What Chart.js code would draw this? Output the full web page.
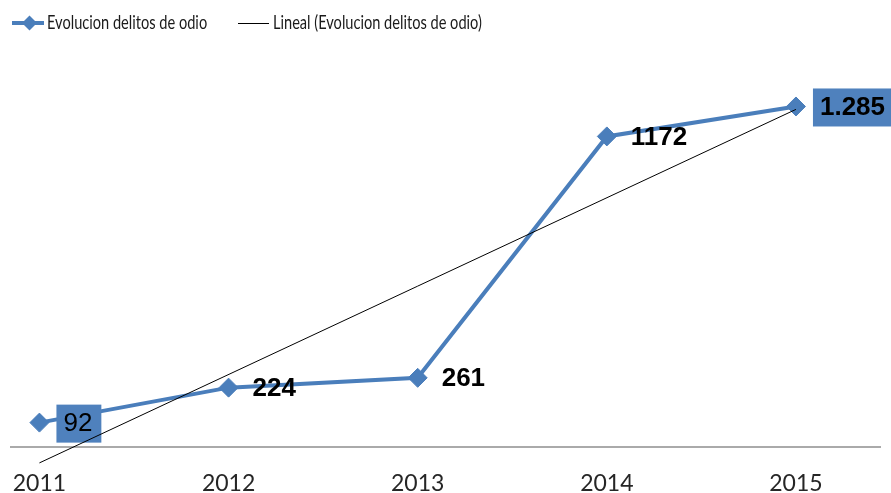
<!DOCTYPE html>
<html>
<head>
<meta charset="utf-8">
<script src="https://cdn.jsdelivr.net/npm/chart.js@4"></script>
<style>
  html, body { margin: 0; padding: 0; background: #fff; }
  #wrap { width: 891px; height: 493px; }
</style>
</head>
<body>
<div id="wrap"><canvas id="chart"></canvas></div>
<script>
const years = [2011, 2012, 2013, 2014, 2015];
const delitos = [92, 224, 261, 1172, 1285];
const valueLabels = ['92', '224', '261', '1172', '1.285'];
// trend line end points
const trendYears = [2011, 2015];
const trendValues = [-60, 1274];
const seriesNames = ['Evolucion delitos de odio', 'Lineal (Evolucion delitos de odio)'];

const blue = '#4a7ebb';
const boxBlue = '#4f81bd';

// labels drawn right after the blue series, so the trend line stays on top
const valueLabelPlugin = {
  id: 'valueLabels',
  afterDatasetDraw(chart, args) {
    if (args.index !== 0) return;
    const ctx = chart.ctx;
    const boxed = [true, false, false, false, true];
    const bold = [false, true, true, true, true];
    ctx.save();
    ctx.textBaseline = 'middle';
    ctx.textAlign = 'left';
    args.meta.data.forEach((p, i) => {
      ctx.font = (bold[i] ? 'bold ' : '') + '26px "Liberation Sans", Arial, sans-serif';
      const tx = p.x + 24;
      const ty = p.y + 1;
      const w = ctx.measureText(valueLabels[i]).width;
      if (boxed[i]) {
        ctx.fillStyle = boxBlue;
        ctx.fillRect(tx - 7, ty - 19, w + 16, 38);
      }
      ctx.fillStyle = '#000';
      ctx.fillText(valueLabels[i], tx, ty);
    });
    ctx.restore();
  }
};

const legendPlugin = {
  id: 'topLegend',
  afterDraw(chart) {
    const ctx = chart.ctx;
    const y = 23;
    ctx.save();
    ctx.lineCap = 'butt';
    // series marker
    ctx.strokeStyle = blue;
    ctx.lineWidth = 4;
    ctx.beginPath();
    ctx.moveTo(12, y);
    ctx.lineTo(44, y);
    ctx.stroke();
    ctx.fillStyle = blue;
    ctx.beginPath();
    ctx.moveTo(29.5 - 7.5, y);
    ctx.lineTo(29.5, y - 7.5);
    ctx.lineTo(29.5 + 7.5, y);
    ctx.lineTo(29.5, y + 7.5);
    ctx.closePath();
    ctx.fill();
    // trend marker
    ctx.strokeStyle = '#000';
    ctx.lineWidth = 1;
    ctx.beginPath();
    ctx.moveTo(238, y + 0.5);
    ctx.lineTo(269, y + 0.5);
    ctx.stroke();

    ctx.fillStyle = '#1a1a1a';
    ctx.textBaseline = 'middle';
    ctx.textAlign = 'left';
    ctx.font = '20px Lato, sans-serif';
    // narrow the text a little, like the original condensed face
    const squeeze = 0.73;
    ctx.scale(squeeze, 1);
    ctx.fillText(seriesNames[0], 47 / squeeze, y);
    ctx.fillText(seriesNames[1], 273 / squeeze, y);
    ctx.restore();
  }
};

new Chart(document.getElementById('chart'), {
  type: 'line',
  data: {
    datasets: [
      {
        label: seriesNames[0],
        data: years.map((x, i) => ({ x: x, y: delitos[i] })),
        borderColor: blue,
        borderWidth: 4,
        pointStyle: 'rectRot',
        pointRadius: 9.5,
        pointBackgroundColor: blue,
        pointBorderColor: blue,
        pointBorderWidth: 1,
        tension: 0,
        order: 1,
        clip: false
      },
      {
        label: seriesNames[1],
        data: trendYears.map((x, i) => ({ x: x, y: trendValues[i] })),
        borderColor: '#000',
        borderWidth: 1,
        pointRadius: 0,
        order: 0,
        clip: false
      }
    ]
  },
  plugins: [valueLabelPlugin, legendPlugin],
  options: {
    responsive: true,
    maintainAspectRatio: false,
    animation: false,
    layout: { padding: { left: 8, right: 1, top: 76, bottom: 0 } },
    plugins: {
      legend: { display: false },
      tooltip: { enabled: false }
    },
    scales: {
      x: {
        type: 'linear',
        min: 2010.847,
        max: 2015.447,
        grid: { display: false, drawTicks: false },
        border: { display: true, color: '#aaaaaa', width: 2 },
        afterBuildTicks: (scale) => { scale.ticks = years.map(v => ({ value: v })); },
        afterFit: (scale) => {
          scale.height = 46;
          scale.paddingLeft = 0;
          scale.paddingRight = 0;
        },
        ticks: {
          padding: 27,
          color: '#262626',
          font: { family: 'Lato', size: 23, lineHeight: 0.8 },
          callback: (v) => String(v)
        }
      },
      y: {
        display: false,
        min: 0,
        max: 1400
      }
    }
  }
});
</script>
</body>
</html>
